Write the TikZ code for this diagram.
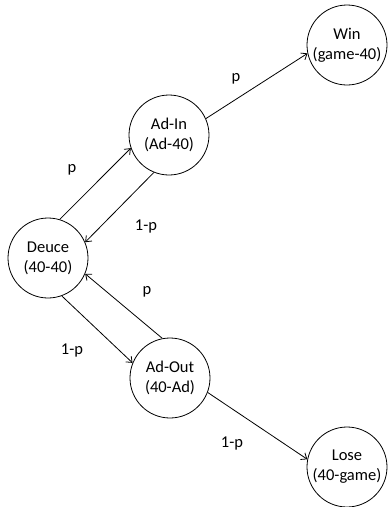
\documentclass[tikz,border=0pt]{standalone}
\usepackage{fontspec}
\setmainfont{Carlito}
\usetikzlibrary{arrows.meta}
\begin{document}
\begin{tikzpicture}[x=1pt,y=-1pt,
  state/.style={draw, circle, line width=0.8pt, minimum size=80pt, inner sep=0pt,
    align=center, font=\fontsize{16.5}{20}\selectfont},
  edge/.style={draw, line width=0.8pt, -{Straight Barb[length=5pt,width=8pt]}},
  prob/.style={anchor=base, font=\fontsize{16.5}{20}\selectfont}]
\useasboundingbox (0,0) rectangle (388,507);
% states
\node[state] (win)   at (347,45)  {Win\\(game-40)};
\node[state] (adin)  at (169,135) {Ad-In\\(Ad-40)};
\node[state] (deuce) at (48,258)  {Deuce\\(40-40)};
\node[state] (adout) at (170,378) {Ad-Out\\(40-Ad)};
\node[state] (lose)  at (347,467) {Lose\\(40-game)};
% transitions
\draw[edge] (deuce.73)  -- (adin.199);
\draw[edge] (adin.248)  -- (deuce.23);
\draw[edge] (adin.24)   -- (win.192);
\draw[edge] (deuce.290) -- (adout.158);
\draw[edge] (adout.101) -- (deuce.337);
\draw[edge] (adout.339) -- (lose.169);
% transition probabilities
\node[prob] (l1) at (72,172)  {p};
\node[prob] (l2) at (146,230) {1-p};
\node[prob] (l3) at (236,81)  {p};
\node[prob] (l4) at (147,294) {p};
\node[prob] (l5) at (72,354)  {1-p};
\node[prob] (l6) at (232,447) {1-p};
\end{tikzpicture}
\end{document}
